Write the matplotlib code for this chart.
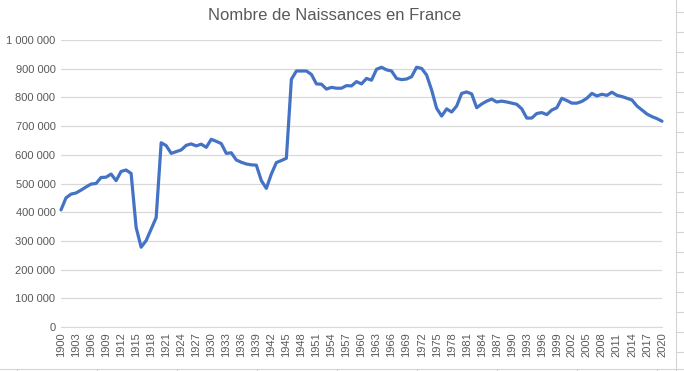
import matplotlib
matplotlib.use("Agg")
import matplotlib.pyplot as plt
from matplotlib.ticker import FuncFormatter, MultipleLocator
from matplotlib.lines import Line2D

years = list(range(1900, 2021))
births = [
    408000, 450000, 463000, 467000, 477000, 488000, 498000, 500000, 521000, 522000,  # 1900-1909
    533000, 510000, 542000, 547000, 535000, 347000, 278000, 301000, 341000, 381000,  # 1910-1919
    642000, 632000, 605000, 611000, 617000, 633000, 638000, 631000, 637000, 626000,  # 1920-1929
    654000, 647000, 639000, 605000, 607000, 582000, 574000, 568000, 565000, 564000,  # 1930-1939
    510000, 483000, 533000, 573000, 580000, 588000, 863000, 892000, 892000, 892000,  # 1940-1949
    880000, 847000, 846000, 829000, 835000, 832000, 832000, 841000, 840000, 855000,  # 1950-1959
    847000, 866000, 860000, 898000, 905000, 896000, 892000, 866000, 862000, 864000,  # 1960-1969
    872000, 905000, 901000, 878000, 826000, 762000, 735000, 760000, 749000, 770000,  # 1970-1979
    814000, 819000, 812000, 764000, 777000, 787000, 794000, 784000, 787000, 784000,  # 1980-1989
    780000, 776000, 760000, 728000, 728000, 744000, 747000, 740000, 756000, 764000,  # 1990-1999
    797000, 789000, 780000, 780000, 786000, 797000, 814000, 805000, 811000, 807000,  # 2000-2009
    818000, 807000, 803000, 797000, 791000, 770000, 756000, 742000, 733000, 726000,  # 2010-2019
    717000,  # 2020
]
tick_years = list(range(1900, 2021, 3))

plt.rcParams["font.family"] = ["Liberation Sans", "DejaVu Sans"]
grey = "#595959"

fig = plt.figure(figsize=(6.84, 3.71), dpi=100)
ax = fig.add_axes([61 / 684, 1 - 327 / 371, 601 / 684, 287 / 371])

ax.plot(years, births, color="#4472C4", linewidth=2.3,
        solid_joinstyle="round", solid_capstyle="round", clip_on=False)

ax.set_xlim(1900, 2020)
ax.set_ylim(0, 1000000)
ax.yaxis.set_major_locator(MultipleLocator(100000))
ax.yaxis.set_major_formatter(FuncFormatter(lambda v, p: f"{int(v):,}".replace(",", " ")))
ax.set_xticks(tick_years)
ax.set_xticklabels([str(y) for y in tick_years], rotation=90)

ax.grid(axis="y", color="#D9D9D9", linewidth=0.9)
ax.set_axisbelow(True)
for s in ["top", "right", "left"]:
    ax.spines[s].set_visible(False)
ax.spines["bottom"].set_color("#D9D9D9")
ax.tick_params(axis="both", length=0, labelsize=8, colors=grey, pad=4)
ax.tick_params(axis="x", pad=4)

fig.text(335 / 684, 1 - 15 / 371, "Nombre de Naissances en France",
         ha="center", va="center", fontsize=12, color=grey)

# spreadsheet cell borders around the chart
cell = "#D4D4D4"
fig.add_artist(Line2D([676 / 684, 676 / 684], [0, 1], color=cell, linewidth=0.8))
fig.add_artist(Line2D([0, 1], [1 - 369 / 371, 1 - 369 / 371], color=cell, linewidth=0.8))
for yy in range(12, 371, 20):
    fig.add_artist(Line2D([676 / 684, 1], [1 - yy / 371, 1 - yy / 371], color=cell, linewidth=0.8))
for xx in range(17, 684, 80):
    fig.add_artist(Line2D([xx / 684, xx / 684], [0, 1 - 369 / 371], color=cell, linewidth=0.8))

fig.savefig("out.png", dpi=100)
